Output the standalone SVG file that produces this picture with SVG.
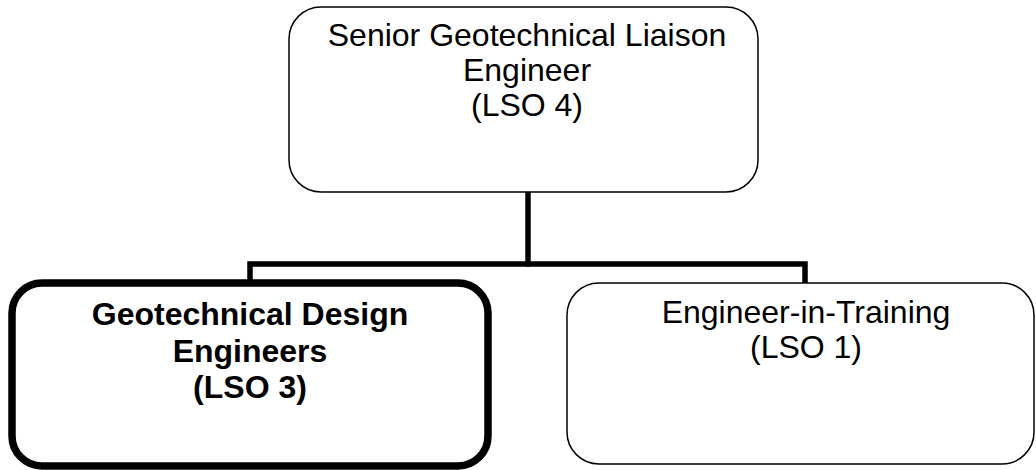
<svg xmlns="http://www.w3.org/2000/svg" width="1036" height="470" viewBox="0 0 1036 470">
<style>
.box{fill:#fff;stroke:#000;stroke-width:1.5}
.thick{fill:#fff;stroke:#000;stroke-width:7.5}
.conn{fill:none;stroke:#000;stroke-width:5.5;stroke-linejoin:miter;stroke-linecap:square}
text{font-family:"Liberation Sans",Arial,sans-serif;font-size:32px;text-anchor:middle;fill:#000}
.b{font-weight:bold}
</style>
<rect width="1036" height="470" fill="#fff"/>
<g id="connectors">
<path class="conn" d="M528 193 V264"/>
<path class="conn" d="M250 281 V264 H805 V282"/>
</g>
<g id="node-senior">
<rect class="box" x="289" y="7" width="469" height="185" rx="32"/>
<text x="527" y="46">Senior Geotechnical Liaison</text>
<text x="527" y="81">Engineer</text>
<text x="527" y="116">(LSO 4)</text>
</g>
<g id="node-design">
<rect class="thick" x="12" y="283" width="476" height="183" rx="30"/>
<text class="b" x="250" y="325">Geotechnical Design</text>
<text class="b" x="250" y="361.5">Engineers</text>
<text class="b" x="250" y="398">(LSO 3)</text>
</g>
<g id="node-eit">
<rect class="box" x="567" y="283" width="467" height="181" rx="32"/>
<text x="806" y="322.5">Engineer-in-Training</text>
<text x="806" y="358">(LSO 1)</text>
</g>
</svg>
